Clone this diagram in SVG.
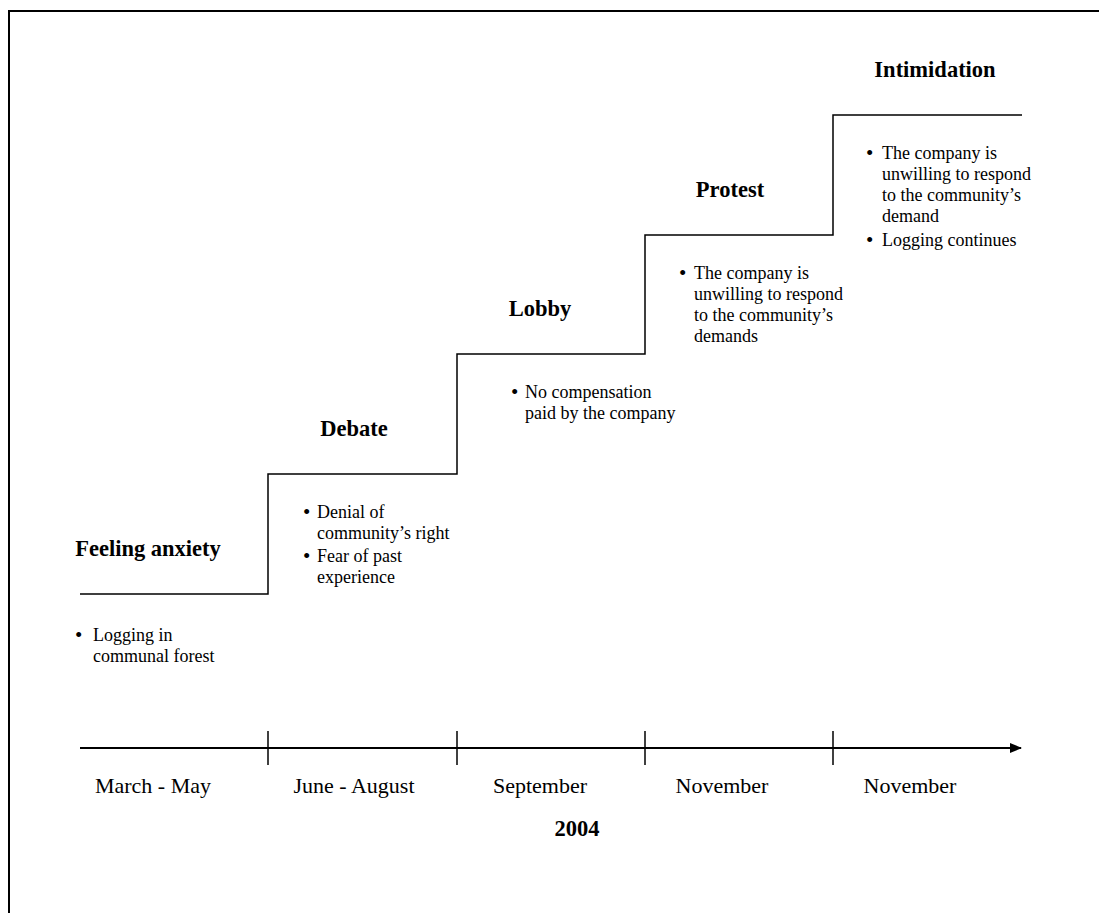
<svg xmlns="http://www.w3.org/2000/svg" width="1099" height="913" viewBox="0 0 1099 913">
<defs>
<style>
.t{font-family:"Liberation Serif","Times New Roman",serif;font-weight:bold;font-size:22.5px;fill:#000;text-anchor:middle}
.b{font-family:"Liberation Serif","Times New Roman",serif;font-size:18px;fill:#000}
.d{font-family:"Liberation Serif","Times New Roman",serif;font-size:21px;fill:#000}
.m{font-family:"Liberation Serif","Times New Roman",serif;font-size:22px;fill:#000;text-anchor:middle}
.ln{fill:none;stroke:#000;stroke-width:1.5}
</style>
<marker id="ah" markerWidth="12" markerHeight="10" refX="11" refY="5" orient="auto" markerUnits="userSpaceOnUse">
<path d="M0,0 L12,5 L0,10 Z" fill="#000"/>
</marker>
</defs>
<rect width="1099" height="913" fill="#fff"/>
<path d="M9,913 V11 H1099" fill="none" stroke="#000" stroke-width="2"/>
<g id="connectors">
<polyline class="ln" points="80,594 268,594 268,474 457,474 457,354 645,354 645,235 833,235 833,115 1022,115"/>
<line x1="80" y1="748" x2="1021" y2="748" stroke="#000" stroke-width="2" marker-end="url(#ah)"/>
<line class="ln" x1="268" y1="731" x2="268" y2="765"/>
<line class="ln" x1="457" y1="731" x2="457" y2="765"/>
<line class="ln" x1="645" y1="731" x2="645" y2="765"/>
<line class="ln" x1="833" y1="731" x2="833" y2="765"/>
</g>
<g id="feeling-anxiety">
<text class="t" x="148" y="556">Feeling anxiety</text>
<text class="d" x="75" y="642">•</text>
<text class="b" x="93" y="641">Logging in</text>
<text class="b" x="93" y="662">communal forest</text>
</g>
<g id="debate">
<text class="t" x="354" y="436">Debate</text>
<text class="d" x="303" y="519">•</text>
<text class="b" x="317" y="518">Denial of</text>
<text class="b" x="317" y="539">community’s right</text>
<text class="d" x="303" y="563">•</text>
<text class="b" x="317" y="562">Fear of past</text>
<text class="b" x="317" y="583">experience</text>
</g>
<g id="lobby">
<text class="t" x="540" y="316">Lobby</text>
<text class="d" x="511" y="399">•</text>
<text class="b" x="525" y="398">No compensation</text>
<text class="b" x="525" y="419">paid by the company</text>
</g>
<g id="protest">
<text class="t" x="730" y="197">Protest</text>
<text class="d" x="679" y="280">•</text>
<text class="b" x="694" y="279">The company is</text>
<text class="b" x="694" y="300">unwilling to respond</text>
<text class="b" x="694" y="321">to the community’s</text>
<text class="b" x="694" y="342">demands</text>
</g>
<g id="intimidation">
<text class="t" x="935" y="77">Intimidation</text>
<text class="d" x="866" y="160">•</text>
<text class="b" x="882" y="159">The company is</text>
<text class="b" x="882" y="180">unwilling to respond</text>
<text class="b" x="882" y="201">to the community’s</text>
<text class="b" x="882" y="222">demand</text>
<text class="d" x="866" y="247">•</text>
<text class="b" x="882" y="246">Logging continues</text>
</g>
<g id="timeline-labels">
<text class="m" x="153" y="793">March - May</text>
<text class="m" x="354" y="793">June - August</text>
<text class="m" x="540" y="793">September</text>
<text class="m" x="722" y="793">November</text>
<text class="m" x="910" y="793">November</text>
<text class="t" x="577" y="836">2004</text>
</g>
</svg>
